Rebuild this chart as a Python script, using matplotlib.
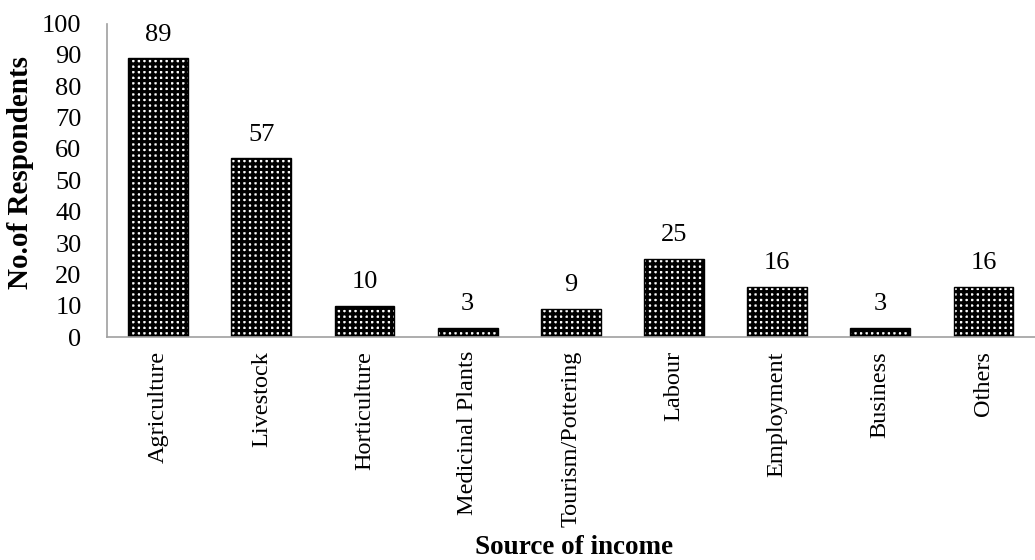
import matplotlib
matplotlib.use("Agg")
import matplotlib.pyplot as plt

sources = ['Agriculture', 'Livestock', 'Horticulture', 'Medicinal Plants',
           'Tourism/Pottering', 'Labour', 'Employment', 'Business', 'Others']
respondents = [89, 57, 10, 3, 9, 25, 16, 3, 16]

plt.rcParams['font.family'] = ['Liberation Serif', 'DejaVu Serif']
plt.rcParams['hatch.linewidth'] = 2.3

fig = plt.figure(figsize=(10.35, 5.6), dpi=100)
ax = fig.add_axes([0.103, 0.398, 0.897, 0.56])

# white bars crossed by a thick black grid -> white dots on black
x = range(len(sources))
bars = ax.bar(x, respondents, width=0.58, color='white', edgecolor='black',
              linewidth=1, hatch='+++')
ax.bar_label(bars, labels=[str(v) for v in respondents], padding=9, fontsize=19)

ax.set_xlim(-0.5, len(sources) - 0.5)
ax.set_ylim(0, 100)
ax.set_yticks(range(0, 101, 10))
ax.set_xticks(list(x))
ax.set_xticklabels(sources, rotation=90, fontsize=17.5)
ax.tick_params(axis='y', labelsize=19, length=0, pad=18)
ax.tick_params(axis='x', length=0, pad=10)

for side in ['top', 'right']:
    ax.spines[side].set_visible(False)
for side in ['left', 'bottom']:
    ax.spines[side].set_color('#a0a0a0')
    ax.spines[side].set_linewidth(1.2)

ax.set_ylabel('No.of Respondents', fontsize=21, fontweight='bold')
ax.yaxis.set_label_coords(-0.078, 0.525)
ax.set_xlabel('Source of income', fontsize=19.5, fontweight='bold', va='baseline')
ax.xaxis.set_label_coords(0.504, -0.69)

fig.savefig('out.png', dpi=100)
